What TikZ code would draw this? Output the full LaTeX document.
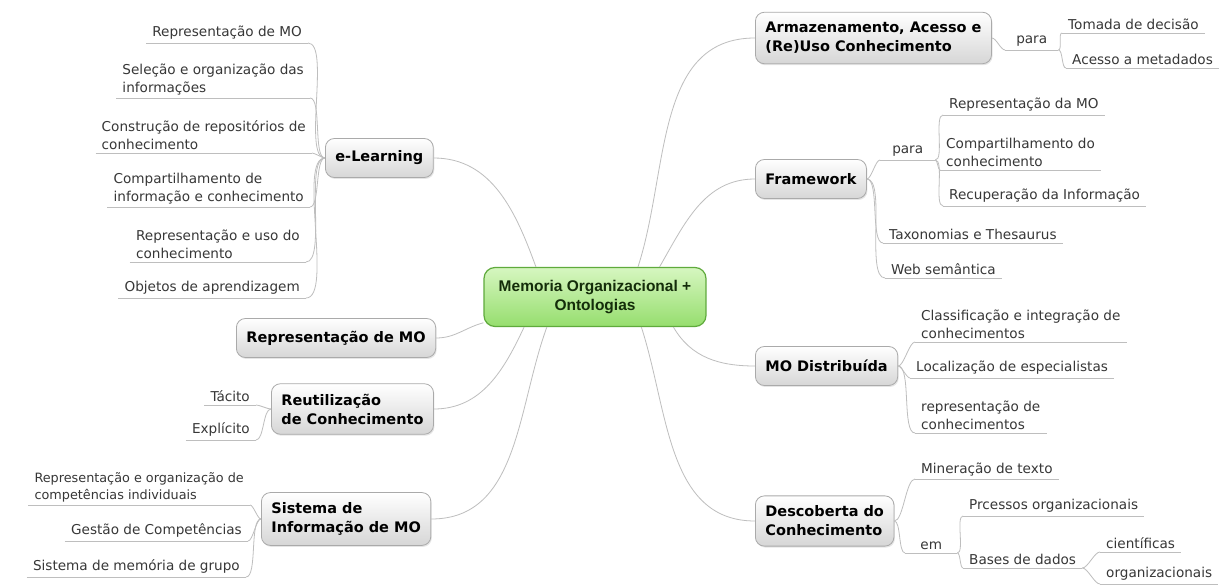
\documentclass[tikz,border=0pt]{standalone}
\usepackage{fontspec}
\setmainfont{DejaVu Sans}
\newfontfamily\cenfont{Liberation Sans}
\usetikzlibrary{shadows}

\definecolor{linegray}{RGB}{190,190,190}
\definecolor{leaftext}{RGB}{55,55,55}
\definecolor{topicedge}{RGB}{170,170,170}
\definecolor{topicfill}{RGB}{214,214,214}
\definecolor{cenedge}{RGB}{95,170,60}
\definecolor{centop}{RGB}{214,246,192}
\definecolor{cenbot}{RGB}{150,222,110}
\definecolor{centext}{RGB}{20,45,10}

\newcommand\leafsize{\fontsize{13.6}{18}\selectfont}
\newcommand\smallleaf{\fontsize{12.8}{17}\selectfont}
\newcommand\topicsize{\fontsize{14.5}{19}\selectfont}

\tikzset{
  topic/.style={rounded corners=9pt, draw=topicedge, line width=0.8pt,
    top color=white, bottom color=topicfill, font=\topicsize\bfseries,
    align=left, inner xsep=10pt, inner ysep=10pt, minimum height=39pt,
    drop shadow={opacity=0.2, shadow xshift=1pt, shadow yshift=-1.5pt}},
  central/.style={rounded corners=11pt, draw=cenedge, line width=1.2pt,
    top color=centop, bottom color=cenbot, font=\cenfont\fontsize{15.5}{19}\selectfont\bfseries,
    text=centext, align=center, minimum width=222pt, minimum height=59pt},
  leaf/.style={font=\leafsize, text=leaftext, inner xsep=6pt, inner ysep=3pt, align=left},
  lleaf/.style={leaf, anchor=south east},
  rleaf/.style={leaf, anchor=south west},
  conn/.style={draw=linegray, line width=0.8pt},
  uline/.style={draw=linegray, line width=0.9pt},
}

\begin{document}
\begin{tikzpicture}[x=1pt,y=-1pt]

\fill[white] (0,0) rectangle (1227,585);
\useasboundingbox (0,0) rectangle (1227,585);

% Central node
\node[central] (cen) at (595,297) {Memoria Organizacional +\\Ontologias};

% Main topics
\node[topic, anchor=west] (elearn) at (325,158) {e-Learning};
\node[topic, anchor=west] (repmo) at (236,338) {Representação de MO};
\node[topic, anchor=west] (reut) at (271,409) {Reutilização\\de Conhecimento};
\node[topic, anchor=west] (sist) at (261,519) {Sistema de\\Informação de MO};
\node[topic, anchor=west] (arm) at (755,38) {Armazenamento, Acesso e\\(Re)Uso Conhecimento};
\node[topic, anchor=west] (fw) at (755,179) {Framework};
\node[topic, anchor=west] (mod) at (755,366) {MO Distribuída};
\node[topic, anchor=west] (desc) at (755,521) {Descoberta do\\Conhecimento};

% Central -> topics
\draw[conn] (cen.153) to[out=110,in=0] (elearn.east);
\draw[conn] (cen.193) to[out=195,in=0] (repmo.east);
\draw[conn] (cen.203) to[out=-115,in=0] (reut.east);
\draw[conn] (cen.212) to[out=-110,in=0] (sist.east);
\draw[conn] (cen.35) to[out=72,in=180] (arm.west);
\draw[conn] (cen.25) to[out=60,in=180] (fw.west);
\draw[conn] (cen.-21) to[out=-60,in=180] (mod.west);
\draw[conn] (cen.-33) to[out=-72,in=180] (desc.west);

% e-Learning
\node[lleaf] (el1) at (308,43) {Representação de MO};
\node[lleaf] (el2) at (310,98) {Seleção e organização das\\informações};
\node[lleaf] (el3) at (312,153) {Construção de repositórios de\\conhecimento};
\node[lleaf] (el4) at (310,207) {Compartilhamento de\\informação e conhecimento};
\node[lleaf] (el5) at (306,262) {Representação e uso do\\conhecimento};
\node[lleaf] (el6) at (306,298) {Objetos de aprendizagem};

% Reutilizacao
\node[lleaf] (tac) at (256,405) {Tácito};
\node[lleaf] (expl) at (256,440) {Explícito};

% Sistema de informacao
\node[lleaf, font=\smallleaf] (si1) at (250,505) {Representação e organização de\\competências individuais};
\node[lleaf] (si2) at (248,541) {Gestão de Competências};
\node[lleaf] (si3) at (246,577) {Sistema de memória de grupo};

% Armazenamento
\node[rleaf, minimum width=53pt, align=center] (para1) at (1005,50) {para};
\node[rleaf] (tom) at (1062,33) {Tomada de decisão};
\node[rleaf] (ace) at (1066,68) {Acesso a metadados};

% Framework
\node[rleaf, minimum width=55pt, align=center] (para2) at (880,160) {para};
\node[rleaf] (rep2) at (943,115) {Representação da MO};
\node[rleaf] (comp2) at (940,170) {Compartilhamento do\\conhecimento};
\node[rleaf] (recu) at (943,206) {Recuperação da Informação};
\node[rleaf] (taxo) at (883,243) {Taxonomias e Thesaurus};
\node[rleaf] (web) at (885,278) {Web semântica};

% MO distribuida
\node[rleaf] (cla) at (915,342) {Classificação e integração de\\conhecimentos};
\node[rleaf] (loc) at (910,378) {Localização de especialistas};
\node[rleaf] (repc) at (915,433) {representação de\\conhecimentos};

% Descoberta
\node[rleaf] (mine) at (915,479) {Mineração de texto};
\node[rleaf, minimum width=52pt, align=center] (em) at (905,553) {em};
\node[rleaf] (proc) at (963,516) {Prcessos organizacionais};
\node[rleaf] (bases) at (963,568) {Bases de dados};
\node[rleaf] (cien) at (1100,552) {científicas};
\node[rleaf] (orgz) at (1100,584) {organizacionais};

% underlines
\foreach \n in {el1,el2,el3,el4,el5,el6,tac,expl,si1,si2,si3,
  para1,tom,ace,para2,rep2,comp2,recu,taxo,web,cla,loc,repc,
  mine,em,proc,bases,cien,orgz}
  \draw[uline] (\n.south west) -- (\n.south east);

% left branches
\foreach \n in {el1,el2,el3,el4,el5,el6}
  \draw[conn] (elearn.west) to[out=180,in=0,looseness=0.5] (\n.south east);
\foreach \n in {tac,expl}
  \draw[conn] (reut.west) to[out=180,in=0,looseness=0.6] (\n.south east);
\foreach \n in {si1,si2,si3}
  \draw[conn] (sist.west) to[out=180,in=0,looseness=0.5] (\n.south east);

% right branches
\draw[conn] (arm.east) to[out=0,in=180,looseness=0.6] (para1.south west);
\foreach \n in {tom,ace}
  \draw[conn] (para1.south east) to[out=0,in=180,looseness=0.6] (\n.south west);
\foreach \n in {para2,taxo,web}
  \draw[conn] (fw.east) to[out=0,in=180,looseness=0.5] (\n.south west);
\foreach \n in {rep2,comp2,recu}
  \draw[conn] (para2.south east) to[out=0,in=180,looseness=0.5] (\n.south west);
\foreach \n in {cla,loc,repc}
  \draw[conn] (mod.east) to[out=0,in=180,looseness=0.5] (\n.south west);
\foreach \n in {mine,em}
  \draw[conn] (desc.east) to[out=0,in=180,looseness=0.5] (\n.south west);
\foreach \n in {proc,bases}
  \draw[conn] (em.south east) to[out=0,in=180,looseness=0.5] (\n.south west);
\foreach \n in {cien,orgz}
  \draw[conn] (bases.south east) to[out=0,in=180,looseness=0.6] (\n.south west);

\end{tikzpicture}
\end{document}
